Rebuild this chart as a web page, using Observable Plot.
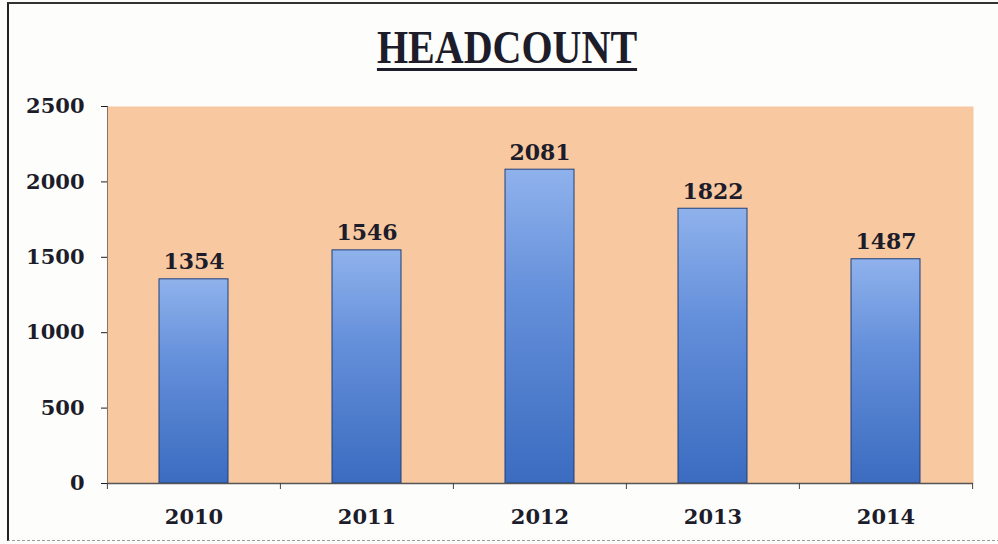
<!DOCTYPE html>
<html>
<head>
<meta charset="utf-8">
<script src="https://cdn.jsdelivr.net/npm/d3@7"></script>
<script src="https://cdn.jsdelivr.net/npm/@observablehq/plot@0.6"></script>
<style>
  html, body { margin: 0; padding: 0; background: #ffffff; }
  #wrap { position: relative; width: 998px; height: 544px; overflow: hidden; background: #fdfdfc; }
  #border { position: absolute; left: 7px; top: 2px; right: -2px; bottom: 3px; border-left: 2px solid #222; border-top: 2px solid #333; border-bottom: 1px dashed #999; pointer-events: none; }
  #title { position: absolute; left: 8px; top: 22px; width: 998px; text-align: center;
    font-family: "Liberation Serif", serif; font-weight: bold; font-size: 46px; line-height: 52px; color: #1c1c2a;
    text-decoration: underline; text-decoration-thickness: 3px; text-underline-offset: 5px; transform: scaleX(0.87); }
  #chart { position: absolute; left: 0; top: 90px; }
</style>
</head>
<body>
<div id="wrap">
  <div id="title">HEADCOUNT</div>
  <div id="chart"></div>
  <div id="border"></div>
</div>
<script>
const years = ["2010", "2011", "2012", "2013", "2014"];
const headcount = [1354, 1546, 2081, 1822, 1487];
const yTicks = [0, 500, 1000, 1500, 2000, 2500];

const data = years.map((year, i) => ({year, value: headcount[i]}));

const W = 998, H = 454, mL = 107, mR = 25, mT = 16, mB = 61;
const step = (W - mL - mR) / years.length;
const font = "'DejaVu Serif', serif";

const chart = Plot.plot({
  width: W,
  height: H,
  marginLeft: mL,
  marginRight: mR,
  marginTop: mT,
  marginBottom: mB,
  style: {fontFamily: font, fontWeight: "bold", fontSize: "21px", color: "#1c1c2a", background: "transparent", overflow: "visible"},
  x: {domain: years, paddingInner: 0.6, paddingOuter: 0.3, tickSize: 0, tickPadding: 26, label: null},
  y: {domain: [0, 2500], ticks: yTicks, tickFormat: "d", tickSize: 6, tickPadding: 17, label: null, line: true},
  marks: [
    Plot.frame({fill: "#f8c8a0", stroke: "none"}),
    Plot.barY(data, {x: "year", y: "value", fill: "url(#barGrad)", stroke: "#1f3f7a", strokeWidth: 1}),
    Plot.barY(data, {x: "year", y1: d => d.value, y2: d => d.value, fill: "none", stroke: "#dfe9fa", strokeWidth: 2, insetTop: 2, insetLeft: 4, insetRight: 4}),
    Plot.ruleY([0], {stroke: "#555", strokeWidth: 1.5}),
    Plot.ruleX(years, {x: d => d, y1: 0, y2: 0, dx: -step / 2, insetBottom: -6, stroke: "#444"}),
    Plot.ruleX(years.slice(-1), {x: d => d, y1: 0, y2: 0, dx: step / 2, insetBottom: -6, stroke: "#444"}),
    Plot.text(data, {x: "year", y: "value", text: d => String(d.value), dy: -10, lineAnchor: "bottom", fontSize: 22, fontWeight: "bold", fill: "#1c1c2a"})
  ]
});

const defs = d3.select(chart).insert("defs", ":first-child");
const g = defs.append("linearGradient").attr("id", "barGrad").attr("x1", 0).attr("y1", 0).attr("x2", 0).attr("y2", 1);
g.append("stop").attr("offset", "0%").attr("stop-color", "#8fb2ec");
g.append("stop").attr("offset", "40%").attr("stop-color", "#648fda");
g.append("stop").attr("offset", "100%").attr("stop-color", "#3b6cc0");

document.getElementById("chart").appendChild(chart);
</script>
</body>
</html>
